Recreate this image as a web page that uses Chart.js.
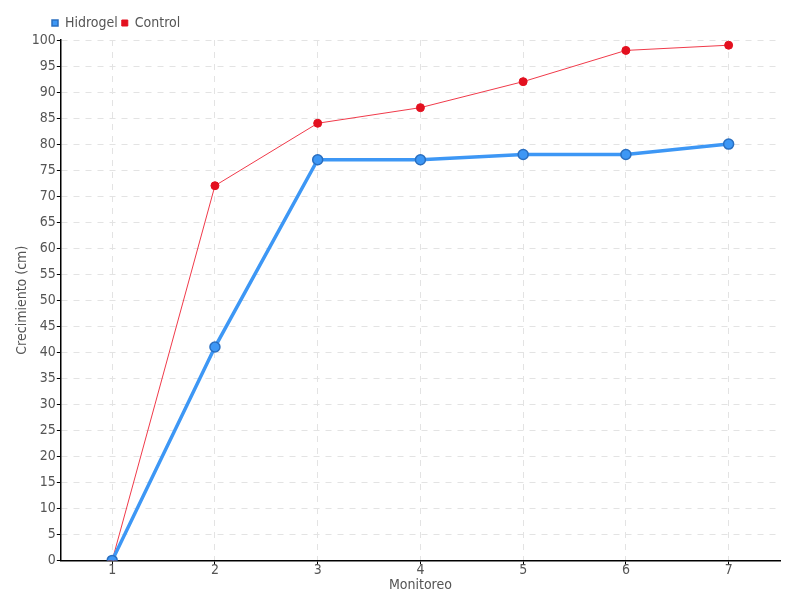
<!DOCTYPE html>
<html>
<head>
<meta charset="utf-8">
<script src="https://cdn.jsdelivr.net/npm/chart.js"></script>
<style>
  html, body { margin: 0; padding: 0; background: #fff; }
  #wrap { width: 800px; height: 600px; }
</style>
</head>
<body>
<div id="wrap"><canvas id="growthChart" width="800" height="600"></canvas></div>
<script>
    var labels = ['1', '2', '3', '4', '5', '6', '7'];
    var hidrogel = [0, 41, 77, 77, 78, 78, 80];
    var control = [0, 72, 84, 87, 92, 98, 99];

    Chart.defaults.font.family = '"DejaVu Sans Condensed", sans-serif';
    Chart.defaults.font.size = 14;
    Chart.defaults.color = '#555';

    // nudge legend to the right, over the plot like the original
    var legendShift = {
        id: 'legendShift',
        afterLayout: function (chart) {
            chart.legend.left += 34;
            chart.legend.right += 34;
        }
    };

    var ctx = document.getElementById('growthChart').getContext('2d');
    var growthChart = new Chart(ctx, {
        type: 'line',
        data: {
            labels: labels,
            datasets: [{
                label: 'Hidrogel',
                data: hidrogel,
                borderColor: '#3d97f5',
                backgroundColor: '#3d97f5',
                pointBackgroundColor: '#3d97f5',
                pointBorderColor: '#2a6fc0',
                borderWidth: 3.5,
                pointRadius: 5,
                pointBorderWidth: 1.5,
                tension: 0,
                fill: false
            }, {
                label: 'Control',
                data: control,
                borderColor: '#f03a4a',
                backgroundColor: '#e3101f',
                pointBackgroundColor: '#e3101f',
                pointBorderColor: '#e3101f',
                borderWidth: 1,
                pointRadius: 4,
                tension: 0,
                fill: false
            }]
        },
        options: {
            responsive: false,
            animation: false,
            layout: { padding: { left: 14, right: 20, top: 12, bottom: 6 } },
            plugins: {
                legend: {
                    position: 'top',
                    align: 'start',
                    labels: {
                        usePointStyle: true,
                        pointStyle: 'rect',
                        boxWidth: 6,
                        boxHeight: 6,
                        padding: 4,
                        color: '#555'
                    }
                },
                tooltip: { enabled: false }
            },
            scales: {
                x: {
                    offset: true,
                    title: { display: true, text: 'Monitoreo', padding: 0 },
                    grid: {
                        color: '#e3e3e3',
                        tickColor: '#000',
                        tickLength: 4,
                        lineWidth: 1
                    },
                    border: { color: '#000', width: 1.5, dash: [6, 6] },
                    ticks: { padding: -2 }
                },
                y: {
                    min: 0,
                    max: 100,
                    title: { display: true, text: 'Crecimiento (cm)', padding: 0 },
                    grid: {
                        color: '#e3e3e3',
                        tickColor: '#000',
                        tickLength: 4
                    },
                    border: { color: '#000', width: 1.5, dash: [6, 6] },
                    ticks: { stepSize: 5, padding: 1, autoSkip: false }
                }
            }
        },
        plugins: [legendShift]
    });
</script>
</body>
</html>
